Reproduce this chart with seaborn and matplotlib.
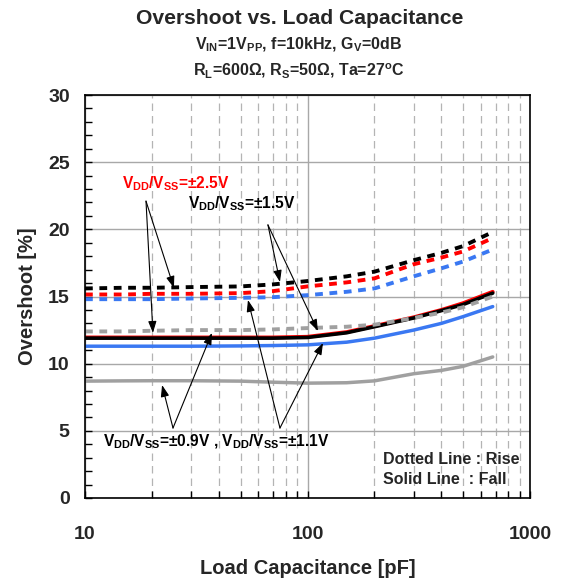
import numpy as np
import pandas as pd
import matplotlib
matplotlib.use('Agg')
import matplotlib.pyplot as plt
import seaborn as sns
from matplotlib.ticker import LogLocator, MultipleLocator, NullFormatter, FixedLocator

# load capacitance [pF]
cap = [10, 15, 20, 30, 50, 70, 100, 150, 200, 300, 400, 500, 680]

# rise (dotted)
rise_25 = [15.15, 15.15, 15.2, 15.2, 15.25, 15.4, 15.75, 16.05, 16.35, 17.4, 17.9, 18.35, 19.35]
rise_15 = [15.6, 15.65, 15.65, 15.7, 15.75, 15.9, 16.15, 16.5, 16.85, 17.7, 18.25, 18.75, 19.8]
rise_11 = [14.8, 14.8, 14.8, 14.85, 14.9, 14.95, 15.1, 15.35, 15.6, 16.5, 17.1, 17.6, 18.5]
rise_09 = [12.4, 12.4, 12.45, 12.5, 12.5, 12.55, 12.65, 12.75, 12.9, 13.4, 13.8, 14.2, 15.0]

# fall (solid)
fall_25 = [11.95, 11.95, 11.95, 11.95, 11.95, 11.95, 12.0, 12.35, 12.8, 13.45, 14.0, 14.5, 15.35]
fall_15 = [11.9, 11.9, 11.9, 11.9, 11.9, 11.9, 11.95, 12.3, 12.75, 13.4, 13.95, 14.4, 15.25]
fall_11 = [11.3, 11.3, 11.3, 11.3, 11.32, 11.35, 11.4, 11.6, 11.9, 12.5, 13.0, 13.5, 14.25]
fall_09 = [8.7, 8.72, 8.73, 8.73, 8.7, 8.62, 8.55, 8.58, 8.72, 9.25, 9.5, 9.8, 10.5]

yticks = [0, 5, 10, 15, 20, 25, 30]
xticks = [10, 100, 1000]

RED = '#ff0000'
BLACK = '#000000'
BLUE = '#3a78f2'
GRAY = '#a0a0a0'

sns.set_style('ticks')
plt.rcParams['font.family'] = ['Liberation Sans', 'DejaVu Sans']
plt.rcParams['font.weight'] = 'bold'
plt.rcParams['mathtext.fontset'] = 'custom'
plt.rcParams['mathtext.rm'] = 'Liberation Sans:bold'
plt.rcParams['mathtext.bf'] = 'Liberation Sans:bold'
plt.rcParams['mathtext.it'] = 'Liberation Sans:bold'

fig = plt.figure(figsize=(5.63, 5.83), dpi=100)
ax = fig.add_axes([85 / 563, 1 - 498 / 583, 445 / 563, 403 / 583])
ax.set_xscale('log')

dot = (0, (2, 1.7))
sns.lineplot(x=cap, y=fall_25, color=RED, linewidth=2.8, ax=ax)
sns.lineplot(x=cap, y=fall_15, color=BLACK, linewidth=2.6, ax=ax)
sns.lineplot(x=cap, y=fall_11, color=BLUE, linewidth=2.5, ax=ax)
sns.lineplot(x=cap, y=fall_09, color=GRAY, linewidth=2.5, ax=ax)
sns.lineplot(x=cap, y=rise_09, color=GRAY, linewidth=2.8, linestyle=dot, ax=ax)
sns.lineplot(x=cap, y=rise_11, color=BLUE, linewidth=2.8, linestyle=dot, ax=ax)
sns.lineplot(x=cap, y=rise_25, color=RED, linewidth=2.8, linestyle=dot, ax=ax)
sns.lineplot(x=cap, y=rise_15, color=BLACK, linewidth=2.8, linestyle=dot, ax=ax)
for ln in ax.get_lines():
    ln.set_dash_capstyle('butt')

ax.set_xlim(10, 1000)
ax.set_ylim(0, 30)
ax.xaxis.set_major_locator(FixedLocator(xticks))
ax.xaxis.set_minor_locator(LogLocator(base=10, subs=np.arange(2, 10)))
ax.xaxis.set_minor_formatter(NullFormatter())
ax.set_xticklabels([str(t) for t in xticks])
ax.set_yticks(yticks)
ax.yaxis.set_minor_locator(MultipleLocator(1))

ax.grid(which='major', axis='both', color='#a8a8a8', linewidth=1.0, linestyle='-')
ax.grid(which='minor', axis='x', color='#b4b4b4', linewidth=0.9, linestyle=(0, (6, 4)))
ax.set_axisbelow(True)

ax.tick_params(which='both', direction='in', length=5, width=1, color='black')
ax.tick_params(axis='x', which='major', pad=20, labelsize=14)
ax.tick_params(axis='y', which='major', pad=11, labelsize=14)
for lbl in ax.get_xticklabels() + ax.get_yticklabels():
    lbl.set_fontweight('bold')
for sp in ax.spines.values():
    sp.set_visible(True)
    sp.set_linewidth(1.2)
    sp.set_color('black')

ax.set_xlabel('Load Capacitance [pF]', fontsize=14.5, fontweight='bold', labelpad=12)
ax.set_ylabel('Overshoot [%]', fontsize=14.5, fontweight='bold', labelpad=8)

# titles
fig.text(300 / 563, 1 - 19 / 583, 'Overshoot vs. Load Capacitance', ha='center', va='center',
         fontsize=15.2, fontweight='bold')
fig.text(299 / 563, 1 - 45 / 583, r'$\mathbf{V_{IN}}$=1$\mathbf{V_{PP}}$, f=10kHz, $\mathbf{G_{V}}$=0dB',
         ha='center', va='center', fontsize=11.5, fontweight='bold')
fig.text(299 / 563, 1 - 70 / 583, r'$\mathbf{R_{L}}$=600Ω, $\mathbf{R_{S}}$=50Ω, Ta=27$\mathbf{^{o}}$C',
         ha='center', va='center', fontsize=11.5, fontweight='bold')

# annotations
fs = 11.2
ax.text(14.66, 23.4, r'$\mathbf{V_{DD}}$/$\mathbf{V_{SS}}$=±2.5V', color=RED, fontsize=fs,
        fontweight='bold', ha='left', va='center')
ax.text(29.0, 21.9, r'$\mathbf{V_{DD}}$/$\mathbf{V_{SS}}$=±1.5V', color=BLACK, fontsize=fs,
        fontweight='bold', ha='left', va='center')
ax.text(12.05, 4.17, r'$\mathbf{V_{DD}}$/$\mathbf{V_{SS}}$=±0.9V , $\mathbf{V_{DD}}$/$\mathbf{V_{SS}}$=±1.1V',
        color=BLACK, fontsize=fs, fontweight='bold', ha='left', va='center')
ax.text(218, 2.83, 'Dotted Line : Rise', fontsize=11.5, fontweight='bold', ha='left', va='center')
ax.text(218, 1.41, 'Solid Line  : Fall', fontsize=11.5, fontweight='bold', ha='left', va='center')

arrows = [
    ((18.8, 22.1), (20.2, 12.29)),
    ((18.8, 22.1), (25.1, 15.64)),
    ((66.4, 20.33), (75.2, 16.08)),
    ((66.4, 20.33), (111.4, 12.43)),
    ((24.86, 5.21), (22.2, 8.41)),
    ((24.86, 5.21), (37.2, 12.29)),
    ((75.2, 5.21), (54.0, 14.74)),
    ((75.2, 5.21), (117.4, 11.54)),
]
for start, tip in arrows:
    ax.annotate('', xy=tip, xytext=start,
                arrowprops=dict(arrowstyle='-|>,head_length=0.7,head_width=0.25', color='black',
                                lw=0.8, shrinkA=0, shrinkB=0))

fig.savefig('out.png', dpi=100)
